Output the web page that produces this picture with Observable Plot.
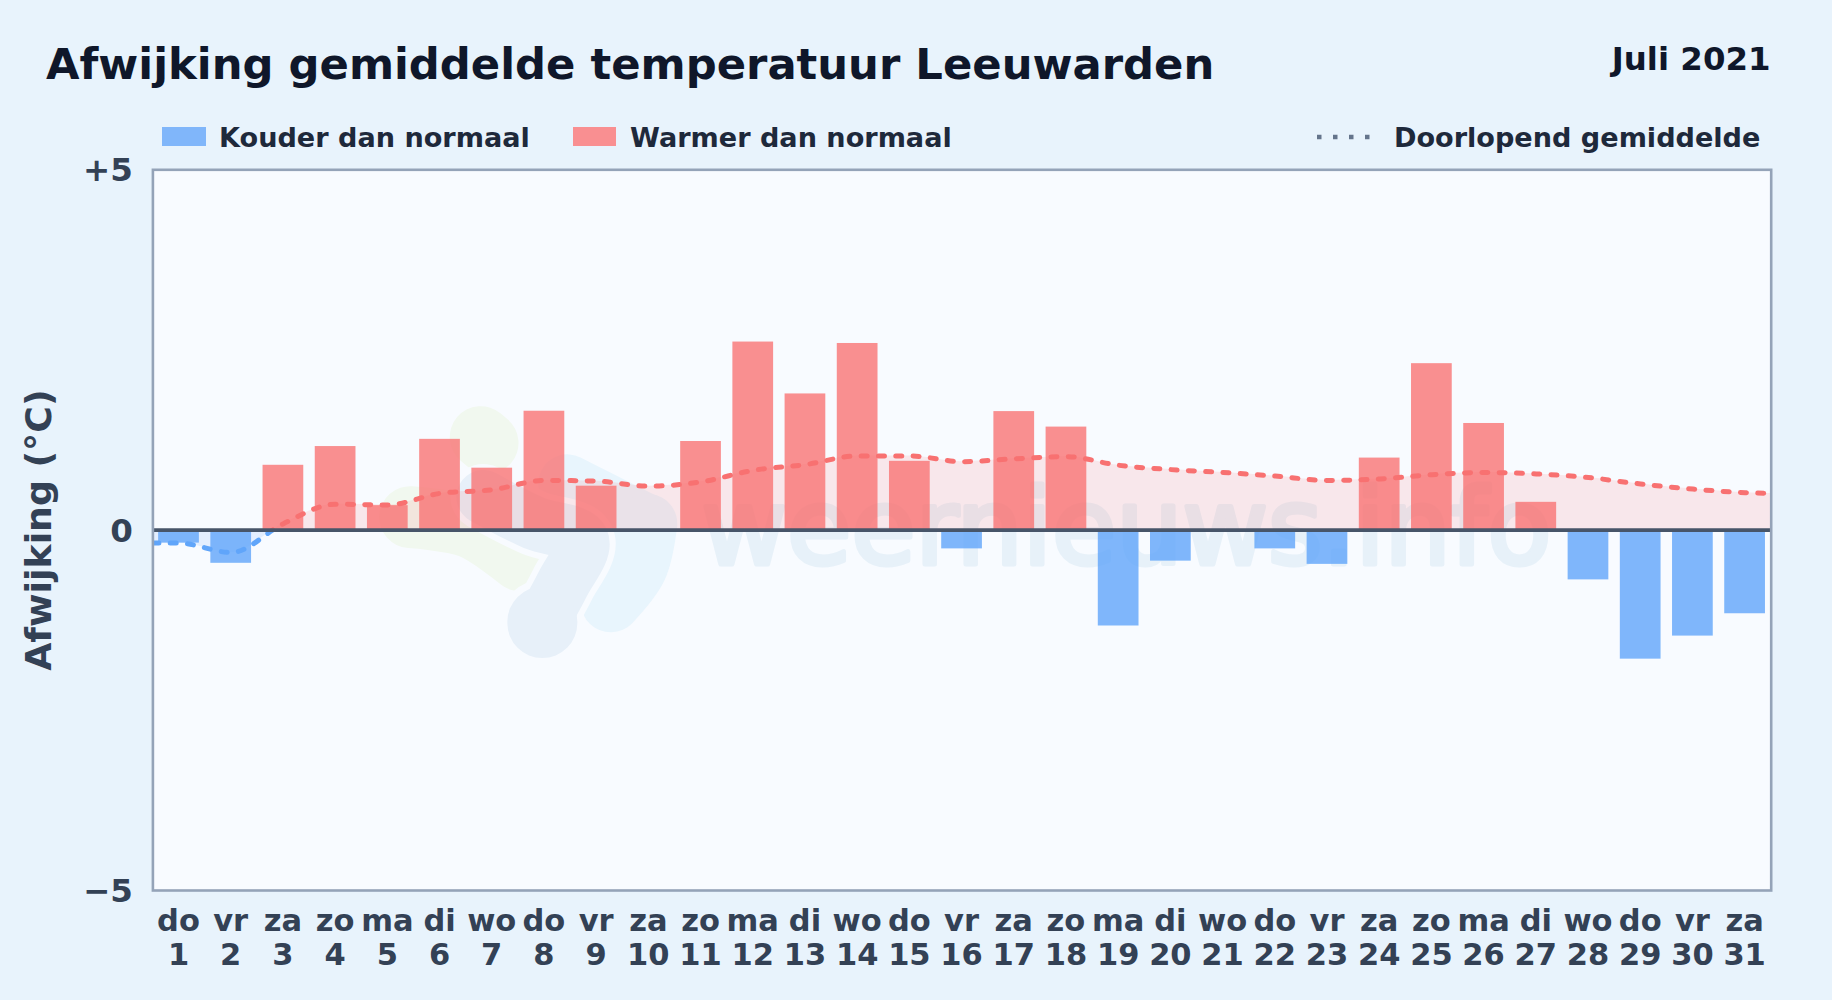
<!DOCTYPE html>
<html lang="nl">
<head>
<meta charset="utf-8">
<title>Afwijking gemiddelde temperatuur Leeuwarden</title>
<script src="https://cdn.jsdelivr.net/npm/d3@7"></script>
<script src="https://cdn.jsdelivr.net/npm/@observablehq/plot@0.6"></script>
<style>
html,body{margin:0;padding:0;width:1832px;height:1000px;overflow:hidden;background:#e8f3fc;font-family:"DejaVu Sans",sans-serif;font-weight:700}
.h{position:absolute;white-space:nowrap;line-height:1}
#title{left:46px;top:43px;font-size:43.3px;color:#0f172a}
#period{right:61.5px;top:43px;font-size:32.4px;color:#0f172a}
.leg{top:123.5px;font-size:27.1px;color:#1e293b}
.sw{position:absolute;top:127px;height:19px}
#chart{position:absolute;left:0;top:130px}
svg{display:block}
</style>
</head>
<body>
<div class="h" id="title">Afwijking gemiddelde temperatuur Leeuwarden</div>
<div class="h" id="period">Juli 2021</div>
<div class="sw" style="left:162px;width:44px;background:#80b6fa"></div>
<div class="h leg" style="left:219px">Kouder dan normaal</div>
<div class="sw" style="left:573px;width:43px;background:#f98f91"></div>
<div class="h leg" style="left:630px">Warmer dan normaal</div>
<svg style="position:absolute;left:1317px;top:130px" width="58" height="14"><line x1="0" x2="58" y1="7" y2="7" stroke="#64748b" stroke-width="4.5" stroke-dasharray="4.5 11.5"/></svg>
<div class="h leg" style="left:1394px">Doorlopend gemiddelde</div>
<div id="chart"></div>
<script>
const weekdays = ["do","vr","za","zo","ma","di","wo","do","vr","za","zo","ma","di","wo","do","vr","za","zo","ma","di","wo","do","vr","za","zo","ma","di","wo","do","vr","za"];
const days = d3.range(1, 32);
const deviation = [-0.18,-0.46,0.9,1.16,0.34,1.26,0.86,1.65,0.61,0,1.23,2.61,1.89,2.59,0.955,-0.26,1.645,1.43,-1.33,-0.43,0,-0.26,-0.475,1.0,2.31,1.48,0.386,-0.69,-1.79,-1.47,-1.16];
const runningX = [0.5,1,2,3,4,5,6,7,8,9,10,11,12,13,14,15,16,17,18,19,20,21,22,23,24,25,26,27,28,29,30,31,31.5];
const runningMean = [-0.18,-0.18,-0.31,0.09,0.36,0.35,0.51,0.56,0.69,0.68,0.61,0.67,0.83,0.91,1.03,1.03,0.95,0.99,1.02,0.9,0.84,0.8,0.75,0.69,0.71,0.77,0.8,0.78,0.73,0.64,0.57,0.52,0.51];

const bars = days.map((d,i)=>({day:d,value:deviation[i]}));
const running = runningX.map((x,i)=>({x,y:runningMean[i]}));

// faint watermark logo, as thick strokes in chart coordinates
const logoGreenTop = [[6.78,1.29],[6.91,1.21]];
const logoGreenLow = [[5.43,0.18],[6.58,0.04],[7.54,-0.42]];
const logoSkyTop = [[8.44,0.65],[9.97,0.09]];
const logoSkyLow = [[9.97,0.09],[9.78,-0.52],[9.27,-1.0]];
const logoSteel = [[6.83,0.46],[7.8,0.1],[8.72,-0.14],[8.35,-0.75],[7.96,-1.27]];
const logoFoot = [[7.96,-1.27],[7.96,-1.29]];
const thick = (pts, stroke, w) => Plot.line(pts.map(([x,y])=>({x,y})), {x:"x",y:"y",stroke,strokeWidth:w,strokeLinecap:"round",strokeLinejoin:"round",curve:"catmull-rom"});

let clipId = 0;
const clipSide = (above) => function(index, scales, values, dims, ctx, next){
  const g = next(index, scales, values, dims, ctx);
  const zero = scales.y(0), id = "side-clip-" + (++clipId);
  const cp = d3.create("svg:clipPath").attr("id", id);
  cp.append("rect").attr("x", dims.marginLeft).attr("width", dims.width-dims.marginLeft-dims.marginRight)
    .attr("y", above ? 0 : zero).attr("height", above ? zero : dims.height-zero);
  g.insertBefore(cp.node(), g.firstChild);
  g.setAttribute("clip-path", `url(#${id})`);
  return g;
};
const curve = "monotone-x";
const halfBar = 0.39;
const fmtY = v => v>0 ? "+"+v : v<0 ? "\u2212"+Math.abs(v) : "0";

const chart = Plot.plot({
  width:1832, height:870,
  marginLeft:152.4, marginRight:61.3, marginTop:39.3, marginBottom:110,
  style:{background:"transparent",fontFamily:"'DejaVu Sans',sans-serif",overflow:"visible"},
  x:{type:"linear",domain:[0.5,31.5]},
  y:{domain:[-5,5]},
  marks:[
    Plot.frame({fill:"#f8fbff",stroke:"none"}),
    thick(logoGreenTop,"#f1f8ef",62),
    thick(logoGreenLow,"#f1f8ef",62),
    thick(logoSkyTop,"#e8f5fd",58),
    thick(logoSkyLow,"#e8f5fd",60),
    thick(logoSteel,"#f8fbff",66),
    thick(logoFoot,"#f8fbff",84),
    thick(logoSteel,"#e7f0f9",54),
    thick(logoFoot,"#e7f0f9",70),
    Plot.text(["weernieuws.info"],{x:19.15,y:-0.47,text:d=>d,fontSize:104.5,fontFamily:"'DejaVu Sans',sans-serif",fontWeight:400,fill:"#e7f1f9",stroke:"#e7f1f9",strokeWidth:5,lineAnchor:"bottom"}),
    Plot.areaY(running,{x:"x",y1:0,y2:"y",curve,fill:"#f87171",fillOpacity:0.14,render:clipSide(true)}),
    Plot.areaY(running,{x:"x",y1:0,y2:"y",curve,fill:"#60a5fa",fillOpacity:0.14,render:clipSide(false)}),
    Plot.rectY(bars.filter(d=>d.value>0),{x1:d=>d.day-halfBar,x2:d=>d.day+halfBar,y1:0,y2:"value",fill:"#f87171",fillOpacity:0.78}),
    Plot.rectY(bars.filter(d=>d.value<0),{x1:d=>d.day-halfBar,x2:d=>d.day+halfBar,y1:0,y2:"value",fill:"#60a5fa",fillOpacity:0.8}),
    Plot.line(running,{x:"x",y:"y",curve,stroke:"#f87171",strokeWidth:5,strokeLinecap:"round",strokeDasharray:"6 11.3",render:clipSide(true)}),
    Plot.line(running,{x:"x",y:"y",curve,stroke:"#60a5fa",strokeWidth:5,strokeLinecap:"round",strokeDasharray:"6 11.3",render:clipSide(false)}),
    Plot.ruleY([0],{stroke:"#475569",strokeWidth:3.6}),
    Plot.frame({stroke:"#94a3b8",strokeWidth:2.6}),
    Plot.axisY({ticks:[-5,0,5],tickFormat:fmtY,tickSize:0,tickPadding:20,fontSize:32.5,fontWeight:700,fill:"#334155",label:null,dy:1}),
    Plot.axisX({ticks:days,tickFormat:d=>weekdays[d-1]+"\n"+d,tickSize:0,tickPadding:17,fontSize:30.5,fontWeight:700,fill:"#334155",lineHeight:1.1,label:null,dx:-0.5}),
    Plot.text(["Afwijking (\u00b0C)"],{text:d=>d,frameAnchor:"left",textAnchor:"middle",rotate:-90,dx:-114,fontSize:36.3,fontWeight:700,fill:"#334155"})
  ]
});
document.getElementById("chart").appendChild(chart);
</script>
</body>
</html>
